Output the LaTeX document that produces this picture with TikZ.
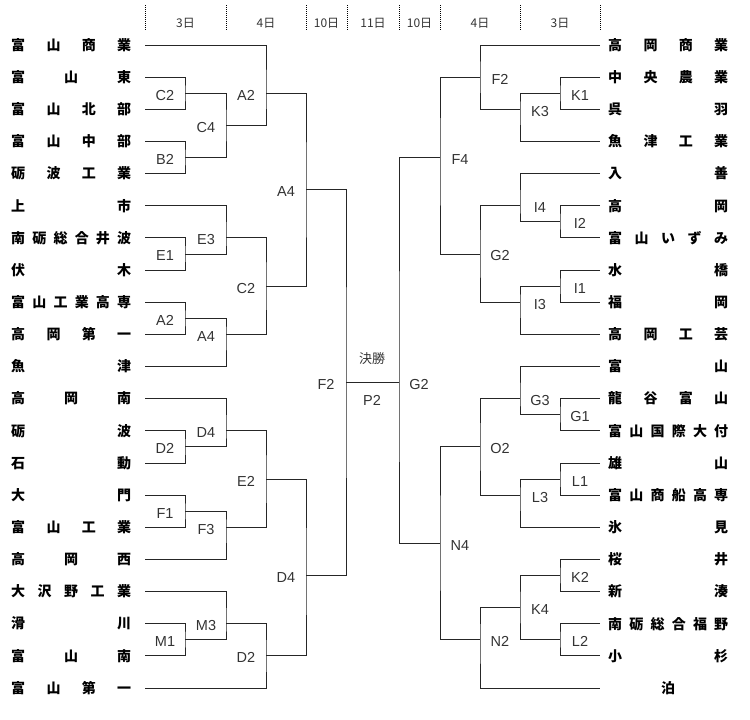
\documentclass[tikz,border=0pt]{standalone}
\usepackage{fontspec}
\setmainfont{Liberation Sans}
\newfontfamily\jpfont{Noto Sans CJK JP}
\makeatletter
\newcommand\spreadname[1]{\makebox[120pt]{\let\sep\relax\@tfor\ch:=#1\do{\sep\ch\let\sep\hfill}}}
\makeatother
\begin{document}
\begin{tikzpicture}[x=1pt,y=-1pt,
	line/.style={draw=black!85,line width=0.9pt},
	team/.style={inner sep=0pt,anchor=west,font=\jpfont\bfseries\fontsize{14}{14}\selectfont},
	lab/.style={inner sep=0pt,text=black!80,font=\fontsize{14.5}{15}\selectfont},
	hdr/.style={inner sep=0pt,text=black!80,font=\jpfont\fontsize{12}{12}\selectfont}]
	\useasboundingbox (0,0) rectangle (750,720);
	\def\rowh{32.15}
	\foreach \x [count=\i] in {145,226,306,347,399,440,520,600}
	\draw[line width=0.7pt,dash pattern=on 1pt off 1pt] (\x,5) coordinate (d\i) -- (\x,31);
	\foreach \x/\t [count=\i] in {185.5/3,266/4,326.5/10,373/11,419.5/10,480/4,560/3}
	\node[hdr] (hd\i) at (\x,23) {\t 日};
	\foreach \nm [count=\r from 0] in {富山商業,富山東,富山北部,富山中部,砺波工業,上市,南砺総合井波,伏木,富山工業高専,高岡第一,魚津,高岡南,砺波,石動,大門,富山工業,高岡西,大沢野工業,滑川,富山南,富山第一}{
		\coordinate (tl\r) at (145,{45+\r*\rowh});
		\node[team] (nl\r) at (11,{45+\r*\rowh}) {\expandafter\spreadname\expandafter{\nm}};
	}
	\foreach \nm [count=\r from 0] in {高岡商業,中央農業,呉羽,魚津工業,入善,高岡,富山いずみ,水橋,福岡,高岡工芸,富山,龍谷富山,富山国際大付,雄山,富山商船高専,氷見,桜井,新湊,南砺総合福野,小杉,泊}{
		\coordinate (tr\r) at (600,{45+\r*\rowh});
		\node[team] (nr\r) at (608,{45+\r*\rowh}) {\expandafter\spreadname\expandafter{\nm}};
	}
	\foreach \m/\t/\x/\r/\a/\b in {
		C2a/C2/185/1.5/tl1/tl2, B2/B2/185/3.5/tl3/tl4, C4/C4/226/2.5/mC2a/mB2, A2a/A2/266/1.5/tl0/mC4,
		E1/E1/185/6.5/tl6/tl7, E3/E3/226/6/tl5/mE1, A2b/A2/185/8.5/tl8/tl9, A4b/A4/226/9/mA2b/tl10,
		C2b/C2/266/7.5/mE3/mA4b, A4a/A4/306/4.5/mA2a/mC2b,
		D2a/D2/185/12.5/tl12/tl13, D4a/D4/226/12/tl11/mD2a, F1/F1/185/14.5/tl14/tl15, F3/F3/226/15/mF1/tl16,
		E2/E2/266/13.5/mD4a/mF3, M1/M1/185/18.5/tl18/tl19, M3/M3/226/18/tl17/mM1, D2b/D2/266/19/mM3/tl20,
		D4b/D4/306/16.5/mE2/mD2b,
		K1/K1/560/1.5/tr1/tr2, K3/K3/520/2/mK1/tr3, F2/F2/480/1/tr0/mK3, I2/I2/560/5.5/tr5/tr6,
		I4/I4/520/5/tr4/mI2, I1/I1/560/7.5/tr7/tr8, I3/I3/520/8/mI1/tr9, G2/G2/480/6.5/mI4/mI3,
		F4/F4/440/3.5/mF2/mG2,
		G1/G1/560/11.5/tr11/tr12, G3/G3/520/11/tr10/mG1, L1/L1/560/13.5/tr13/tr14, L3/L3/520/14/mL1/tr15,
		O2/O2/480/12.5/mG3/mL3, K2/K2/560/16.5/tr16/tr17, L2/L2/560/18.5/tr18/tr19, K4/K4/520/17.5/mK2/mL2,
		N2/N2/480/18.5/mK4/tr20, N4/N4/440/15.5/mO2/mN2,
		FL/F2/346/10.5/mA4a/mD4b, FR/G2/399/10.5/mF4/mN4}{
		\coordinate (m\m) at (\x,{45+\r*\rowh});
		\draw[line] (\a) -| (m\m) |- (\b);
		\pgfmathsetmacro\dx{\x<373 ? -20 : 20}
		\node[lab] (t\m) at ([xshift=\dx pt,yshift=-2pt]m\m) {\t};
	}
	\draw[line] (mFL) -- (mFR);
	\node[lab] (final) at (372,359) {\jpfont\fontsize{13}{13}\selectfont 決勝};
	\node[lab] (p2) at (372,400) {P2};
\end{tikzpicture}
\end{document}
